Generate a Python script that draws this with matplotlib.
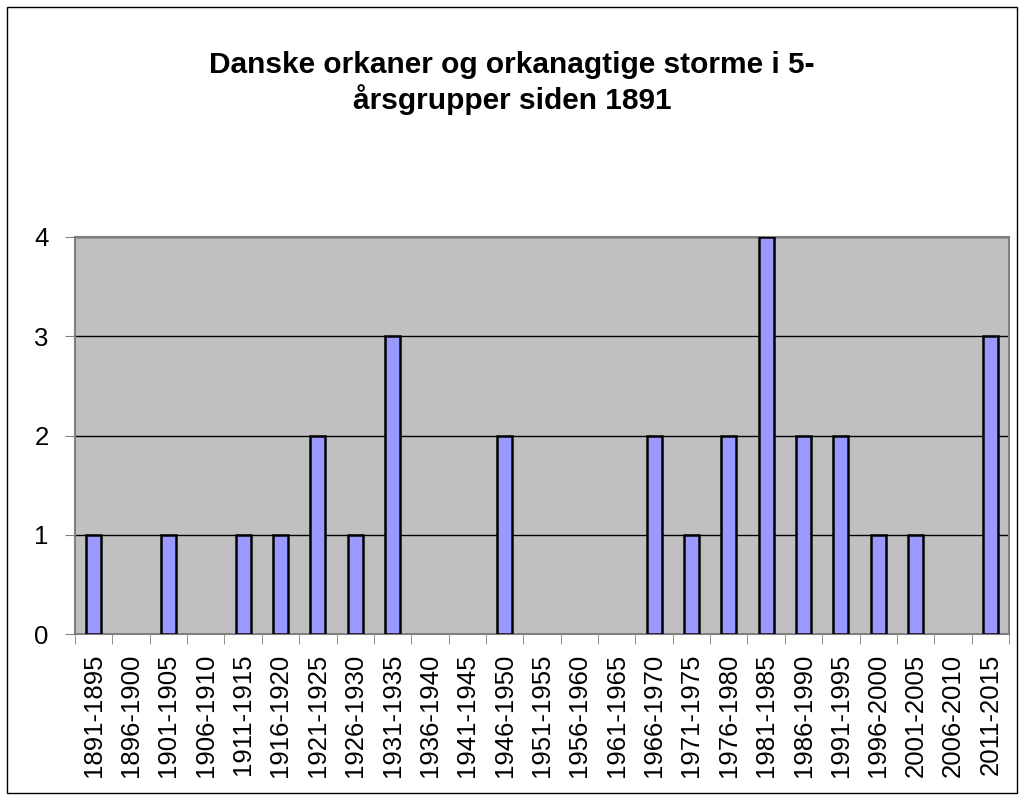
import matplotlib
matplotlib.use('Agg')
import matplotlib.pyplot as plt
from matplotlib.patches import Rectangle

periods = [
    '1891-1895', '1896-1900', '1901-1905', '1906-1910', '1911-1915',
    '1916-1920', '1921-1925', '1926-1930', '1931-1935', '1936-1940',
    '1941-1945', '1946-1950', '1951-1955', '1956-1960', '1961-1965',
    '1966-1970', '1971-1975', '1976-1980', '1981-1985', '1986-1990',
    '1991-1995', '1996-2000', '2001-2005', '2006-2010', '2011-2015',
]
storms = [1, 0, 1, 0, 1, 1, 2, 1, 3, 0, 0, 2, 0, 0, 0,
          2, 1, 2, 4, 2, 2, 1, 1, 0, 3]

plt.rcParams['font.family'] = ['Liberation Sans', 'DejaVu Sans']

fig = plt.figure(figsize=(10.24, 7.99), dpi=100)
fig.patches.append(Rectangle((7 / 1024, 6 / 799), 1010 / 1024, 786 / 799,
                             transform=fig.transFigure, fill=False,
                             edgecolor='black', linewidth=1))

ax = fig.add_axes([75 / 1024, 1 - 634 / 799, (1009 - 75) / 1024, (634 - 237) / 799])
ax.set_facecolor('#C0C0C0')

x = list(range(len(periods)))
# no outline for empty groups, Excel draws nothing there
edges = ['black' if v > 0 else 'none' for v in storms]
ax.bar(x, storms, width=0.4, color='#9999FF', edgecolor=edges, linewidth=1.8, zorder=3)

ax.set_xlim(-0.5, len(periods) - 0.5)
ax.set_ylim(0, 4)
ax.set_yticks([0, 1, 2, 3, 4])
ax.yaxis.grid(True, color='black', linewidth=1, zorder=0)
ax.set_axisbelow(True)

ax.set_xticks(x)
ax.set_xticklabels(periods, rotation=90, fontsize=18.5)
ax.set_xticks([i - 0.5 for i in range(len(periods) + 1)], minor=True)
ax.tick_params(axis='x', which='major', length=0, pad=14)
ax.tick_params(axis='x', which='minor', length=7, direction='out', color='#808080')
ax.tick_params(axis='y', length=7, direction='out', labelsize=18.5, color='#808080', pad=12)

for s in ax.spines.values():
    s.set_color('#808080')
    s.set_linewidth(1.5)

fig.text(0.5, 1 - 83 / 799, 'Danske orkaner og orkanagtige storme i 5-\nårsgrupper siden 1891',
         ha='center', va='center', fontsize=21.5, fontweight='bold', linespacing=1.2)

fig.savefig('out.png', dpi=100)
